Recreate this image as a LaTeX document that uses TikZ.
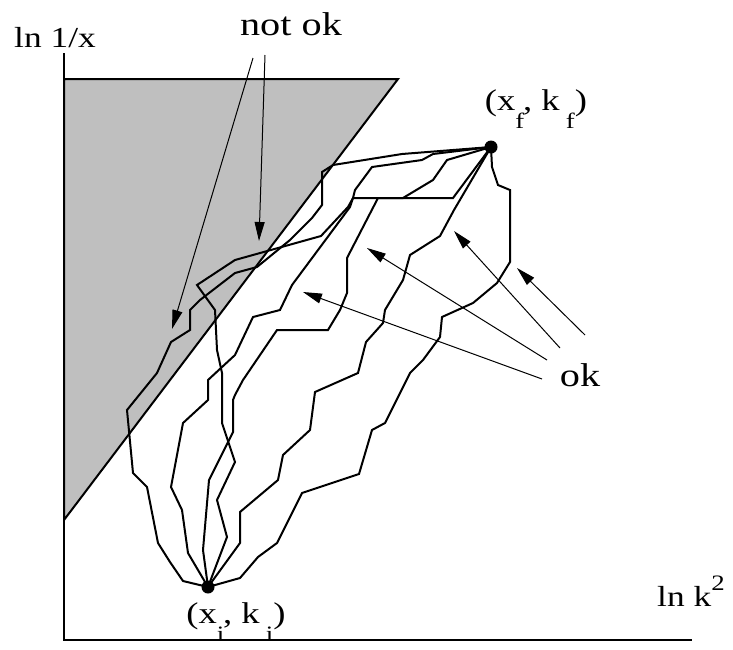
\documentclass[tikz,border=0pt]{standalone}
\usepackage{fontspec}
\setmainfont{Liberation Serif}
\usepackage{graphicx}
\usetikzlibrary{arrows.meta}
\newcommand{\wt}[1]{\scalebox{1.22}[1]{#1}}
\newcommand{\sbx}[1]{\raisebox{-0.6em}{\fontsize{22}{22}\selectfont #1}}
\begin{document}
\begin{tikzpicture}[x=1pt,y=-1pt,
  walk/.style={line width=2pt, line join=miter},
  ptr/.style={line width=1pt, -{Triangle[length=19pt,width=10pt]}},
  dotnode/.style={circle, fill=black, inner sep=0pt, minimum size=13pt},
  bigtxt/.style={font=\fontsize{33}{36}\selectfont, inner sep=0pt},
  axtxt/.style={font=\fontsize{29}{32}\selectfont, inner sep=0pt},
  pttxt/.style={font=\fontsize{30}{32}\selectfont, inner sep=0pt}]
\useasboundingbox (0,0) rectangle (733,649);
% forbidden region
\filldraw[fill=black!25, line width=2pt] (64,79) -- (398,79) -- (64,520) -- cycle;
% axes
\draw[line width=1.6pt] (64,53) -- (64,640) -- (692,640);
% end points
\node[dotnode] (pi) at (208,587) {};
\node[dotnode] (pf) at (491,147) {};
% paths
\draw[walk] (pi.center) -- (183,581) -- (170,562) -- (158,543) -- (147,487) -- (133,473) -- (127,410) -- (157,373) -- (171,342) -- (190,330) -- (190,310) -- (200,300) -- (235,273) -- (257,267) -- (290,240) -- (312,218) -- (322,205) -- (322,172) -- (333,165) -- (402,154) -- (pf.center);
\draw[walk] (pi.center) -- (188,553) -- (182,510) -- (171,487) -- (183,423) -- (208,400) -- (208,380) -- (235,355) -- (253,317) -- (280,310) -- (292,285) -- (350,207) -- (353,198) -- (355,190) -- (372,167) -- (422,160) -- (433,154) -- (pf.center);
\draw[walk] (pi.center) -- (203,550) -- (209,480) -- (233,432) -- (233,400) -- (235,395) -- (243,380) -- (277,330) -- (328,330) -- (340,310) -- (347,293) -- (347,258) -- (378,198) -- (403,198) -- (433,180) -- (447,160) -- (pf.center);
\draw[walk] (pi.center) -- (227,537) -- (217,500) -- (235,462) -- (222,423) -- (222,373) -- (217,350) -- (215,310) -- (197,285) -- (235,260) -- (321,236) -- (348,207) -- (353,198) -- (453,198) -- (pf.center);
\draw[walk] (pi.center) -- (240,543) -- (240,512) -- (278,480) -- (283,455) -- (310,430) -- (315,392) -- (358,373) -- (366,342) -- (383,323) -- (385,310) -- (403,280) -- (410,255) -- (440,236) -- (454,210) -- (pf.center);
\draw[walk] (pi.center) -- (240,578) -- (258,557) -- (277,543) -- (302,493) -- (359,474) -- (372,430) -- (385,423) -- (410,373) -- (423,360) -- (440,337) -- (442,317) -- (473,303) -- (497,283) -- (510,262) -- (510,190) -- (498,185) -- (492,167) -- (pf.center);
% labels
\node[bigtxt, anchor=base] (notok) at (291,35) {\wt{not ok}};
\node[bigtxt, anchor=base] (ok) at (580,386) {\wt{ok}};
\node[axtxt, anchor=base west] (ylab) at (14,47) {\wt{ln 1/x}};
\node[axtxt, anchor=base west] (xlab) at (657,606) {\wt{ln k\raisebox{0.55em}{\fontsize{22}{22}\selectfont 2}}};
\node[pttxt, anchor=base] (lf) at (536,110) {\wt{(x\sbx{f}\kern-1pt, k\,\sbx{f})}};
\node[pttxt, anchor=base] (li) at (236,623) {\wt{(x\sbx{i}\kern-1pt, k\,\sbx{i})}};
% pointers
\coordinate (n1) at (253,58); \coordinate (n1t) at (172,329);
\coordinate (n2) at (265,55); \coordinate (n2t) at (259,241);
\coordinate (o1) at (542,379); \coordinate (o1t) at (303,292);
\coordinate (o2) at (547,360); \coordinate (o2t) at (367,248);
\coordinate (o3) at (560,348); \coordinate (o3t) at (454,231);
\coordinate (o4) at (585,335); \coordinate (o4t) at (517,268);
\draw[ptr] (n1) -- (n1t);
\draw[ptr] (n2) -- (n2t);
\draw[ptr] (o1) -- (o1t);
\draw[ptr] (o2) -- (o2t);
\draw[ptr] (o3) -- (o3t);
\draw[ptr] (o4) -- (o4t);
\end{tikzpicture}
\end{document}
